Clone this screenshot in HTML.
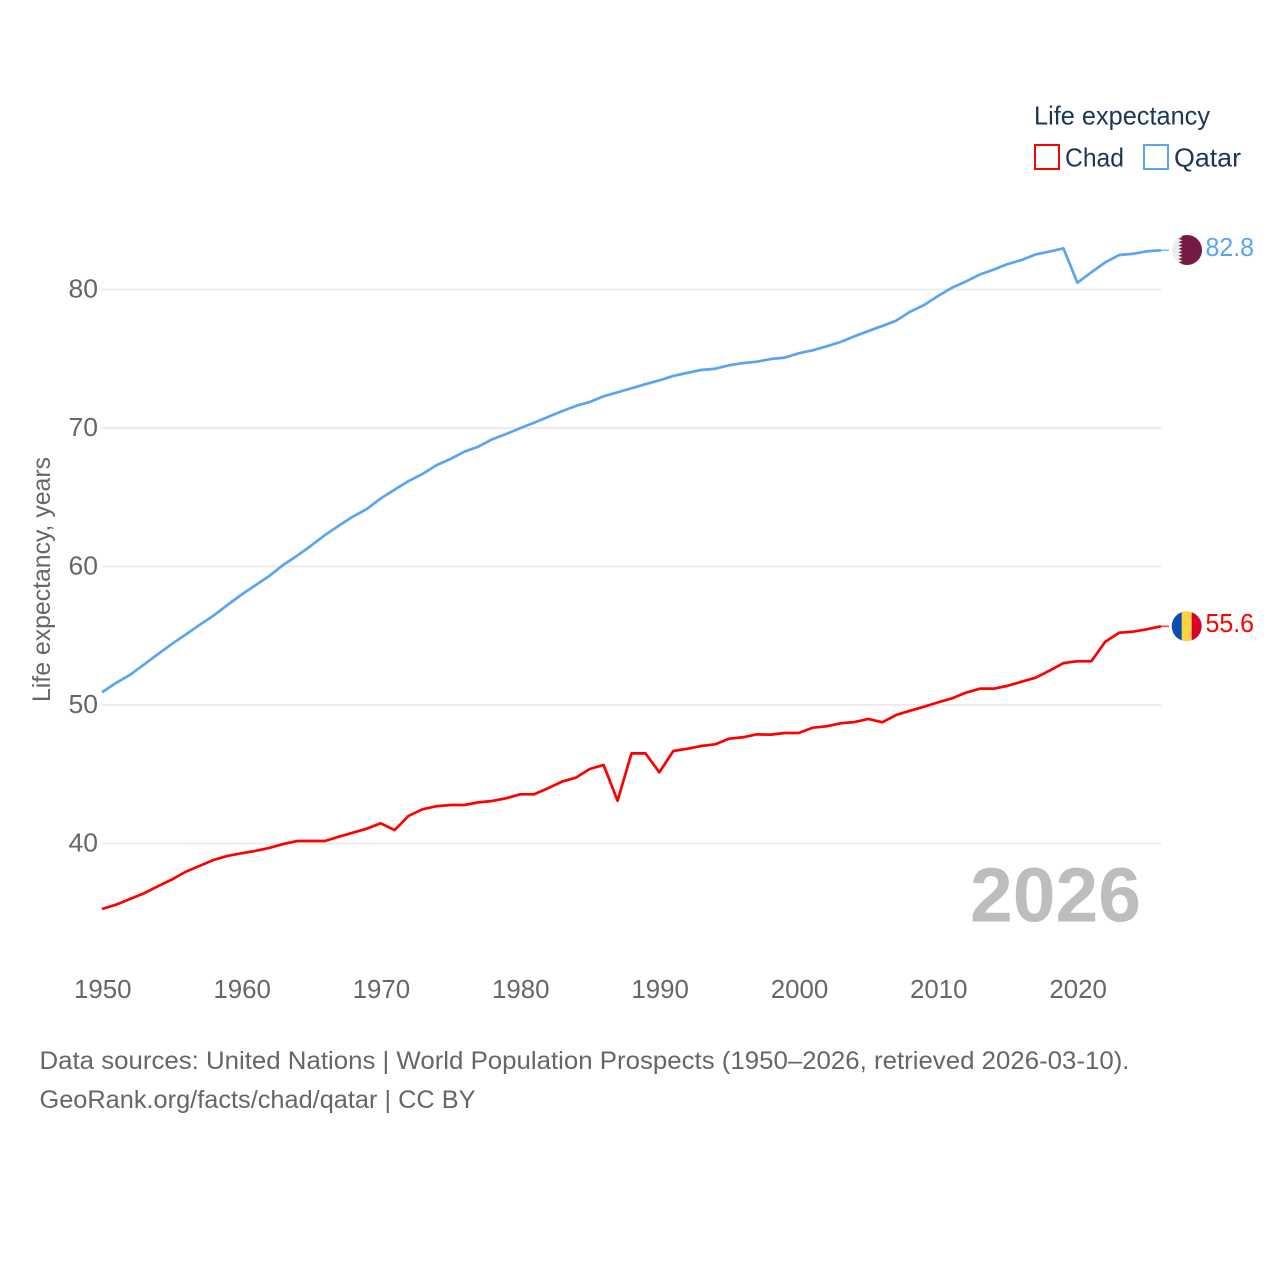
<!DOCTYPE html>
<html lang="en">
<head>
<meta charset="utf-8">
<title>Life expectancy: Chad vs Qatar</title>
<style>
html,body{margin:0;padding:0;background:#fff;width:1280px;height:1280px;overflow:hidden}
svg{display:block;font-family:"Liberation Sans",sans-serif}
</style>
</head>
<body>
<svg id="chart" width="1280" height="1280" viewBox="0 0 1280 1280" xmlns="http://www.w3.org/2000/svg">
  <rect x="0" y="0" width="1280" height="1280" fill="#fff"/>
  <g id="grid"></g>
  <g id="yticks"></g>
  <g id="xticks"></g>
  <text transform="translate(50,702) rotate(-90)" font-size="25" fill="#666" textLength="245" lengthAdjust="spacingAndGlyphs">Life expectancy, years</text>
  <text x="970" y="921.5" font-size="77" font-weight="bold" fill="#bdbdbd" textLength="171" lengthAdjust="spacingAndGlyphs">2026</text>
  <g id="series"></g>

  <defs>
    <clipPath id="flag-clip-qatar"><circle cx="1187" cy="250" r="15"/></clipPath>
    <clipPath id="flag-clip-chad"><circle cx="1186.7" cy="626.3" r="15"/></clipPath>
  </defs>
  <g id="flag-qatar" clip-path="url(#flag-clip-qatar)">
    <rect x="1172" y="235" width="30" height="30" fill="#ececec"/>
    <polygon fill="#751a45" points="1202,235 1179.5,235 1182.5,237 1178.5,238.7 1182.5,240.4 1178.5,242.1 1182.5,243.8 1178.5,245.5 1182.5,247.2 1178.5,248.9 1182.5,250.6 1178.5,252.3 1182.5,254 1178.5,255.7 1182.5,257.4 1178.5,259.1 1182.5,260.8 1178.5,262.5 1182.5,264 1179.5,265 1202,265"/>
  </g>
  <g id="flag-chad" clip-path="url(#flag-clip-chad)">
    <rect x="1171" y="611" width="11" height="31" fill="#0a4fb0"/>
    <rect x="1181.7" y="611" width="10" height="31" fill="#fdd343"/>
    <rect x="1191.7" y="611" width="11" height="31" fill="#d9002c"/>
  </g>
  <text x="1205.5" y="256" font-size="26" fill="#5ba4ee" textLength="48.5" lengthAdjust="spacingAndGlyphs">82.8</text>
  <text x="1205.5" y="632" font-size="26" fill="#ff0000" textLength="48.5" lengthAdjust="spacingAndGlyphs">55.6</text>

  <g>
    <text x="1034" y="124.5" font-size="26" fill="#1d3557" textLength="176" lengthAdjust="spacingAndGlyphs">Life expectancy</text>
    <g>
      <rect x="1035" y="145" width="24" height="24" fill="none" stroke="#ff0000" stroke-width="2"/>
      <text x="1065" y="166.5" font-size="26" fill="#1d3557" textLength="59" lengthAdjust="spacingAndGlyphs">Chad</text>
    </g>
    <g>
      <rect x="1144" y="145" width="24" height="24" fill="none" stroke="#5ba4ee" stroke-width="2"/>
      <text x="1174" y="166.5" font-size="26" fill="#1d3557" textLength="67" lengthAdjust="spacingAndGlyphs">Qatar</text>
    </g>
  </g>

  <text x="39.5" y="1069" font-size="25" fill="#666" textLength="1090" lengthAdjust="spacingAndGlyphs">Data sources: United Nations | World Population Prospects (1950–2026, retrieved 2026-03-10).</text>
  <text x="39.5" y="1108" font-size="25" fill="#666" textLength="436" lengthAdjust="spacingAndGlyphs">GeoRank.org/facts/chad/qatar | CC BY</text>
</svg>
<script>
const years = [1950,1951,1952,1953,1954,1955,1956,1957,1958,1959,1960,1961,1962,1963,1964,1965,1966,1967,1968,1969,1970,1971,1972,1973,1974,1975,1976,1977,1978,1979,1980,1981,1982,1983,1984,1985,1986,1987,1988,1989,1990,1991,1992,1993,1994,1995,1996,1997,1998,1999,2000,2001,2002,2003,2004,2005,2006,2007,2008,2009,2010,2011,2012,2013,2014,2015,2016,2017,2018,2019,2020,2021,2022,2023,2024,2025,2026];
const chadValues = [35.27,35.58,35.99,36.40,36.91,37.39,37.96,38.38,38.81,39.10,39.29,39.46,39.68,39.96,40.18,40.18,40.18,40.49,40.78,41.07,41.46,40.97,41.99,42.47,42.69,42.78,42.78,42.97,43.07,43.26,43.55,43.55,43.99,44.46,44.75,45.38,45.67,43.09,46.51,46.51,45.14,46.68,46.84,47.04,47.16,47.57,47.67,47.88,47.86,47.98,47.98,48.36,48.46,48.68,48.77,48.99,48.75,49.28,49.59,49.88,50.19,50.48,50.89,51.18,51.18,51.39,51.68,51.97,52.48,53.03,53.16,53.16,54.57,55.22,55.29,55.47,55.68];
const qatarValues = [50.92,51.59,52.17,52.91,53.66,54.40,55.08,55.78,56.45,57.22,57.96,58.64,59.31,60.11,60.78,61.50,62.27,62.95,63.60,64.15,64.91,65.55,66.17,66.68,67.31,67.76,68.29,68.65,69.18,69.57,69.98,70.38,70.79,71.21,71.59,71.88,72.29,72.58,72.87,73.16,73.44,73.76,73.98,74.19,74.28,74.53,74.69,74.79,74.98,75.08,75.39,75.61,75.90,76.21,76.62,77.00,77.37,77.75,78.40,78.88,79.53,80.13,80.58,81.08,81.44,81.84,82.13,82.53,82.74,82.97,80.49,81.24,81.96,82.49,82.58,82.76,82.83];
const xTickLabels = [1950,1960,1970,1980,1990,2000,2010,2020];
const yTickLabels = [40,50,60,70,80];

const SVG_NS = 'http://www.w3.org/2000/svg';
const xScale = function (year) { return 102 + (year - 1950) * (1161 - 102) / 76; };
const yScale = function (v) { return 843.5 - (v - 40) * 13.85; };

function make(tag, attrs, parent) {
  const el = document.createElementNS(SVG_NS, tag);
  Object.keys(attrs).forEach(function (k) { el.setAttribute(k, attrs[k]); });
  parent.appendChild(el);
  return el;
}

const gridGroup = document.getElementById('grid');
const yTickGroup = document.getElementById('yticks');
const xTickGroup = document.getElementById('xticks');
const seriesGroup = document.getElementById('series');

yTickLabels.forEach(function (t) {
  const line = make('line', {x1: 102, x2: 1161, y1: yScale(t), y2: yScale(t), stroke: '#ececec', 'stroke-width': 2}, gridGroup);
  
  
  const label = make('text', {x: 68.5, y: yScale(t) + 8, 'font-size': 26, fill: '#666', textLength: 29.5, lengthAdjust: 'spacingAndGlyphs'}, yTickGroup);
  
  
  label.textContent = String(t);
});

xTickLabels.forEach(function (t) {
  const label = make('text', {x: xScale(t) - 28, y: 998, 'font-size': 26, fill: '#666', textLength: 57.5, lengthAdjust: 'spacingAndGlyphs'}, xTickGroup);
  
  
  label.textContent = String(t);
});

function drawSeries(values, colour, name) {
  const pts = values.map(function (v, i) { return xScale(years[i]).toFixed(2) + ',' + yScale(v).toFixed(2); }).join(' ');
  const line = make('polyline', {points: pts, fill: 'none', stroke: colour, 'stroke-width': 2.7, 'stroke-linejoin': 'round'}, seriesGroup);
  
  
  const lastY = yScale(values[values.length - 1]);
  const connector = make('line', {x1: xScale(years[years.length - 1]), x2: 1169, y1: lastY, y2: lastY, stroke: colour, 'stroke-width': 1.6, opacity: 0.75}, seriesGroup);
  
  
}

drawSeries(qatarValues, '#5ba4ee', 'qatar');
drawSeries(chadValues, '#ff0000', 'chad');
</script>
</body>
</html>
